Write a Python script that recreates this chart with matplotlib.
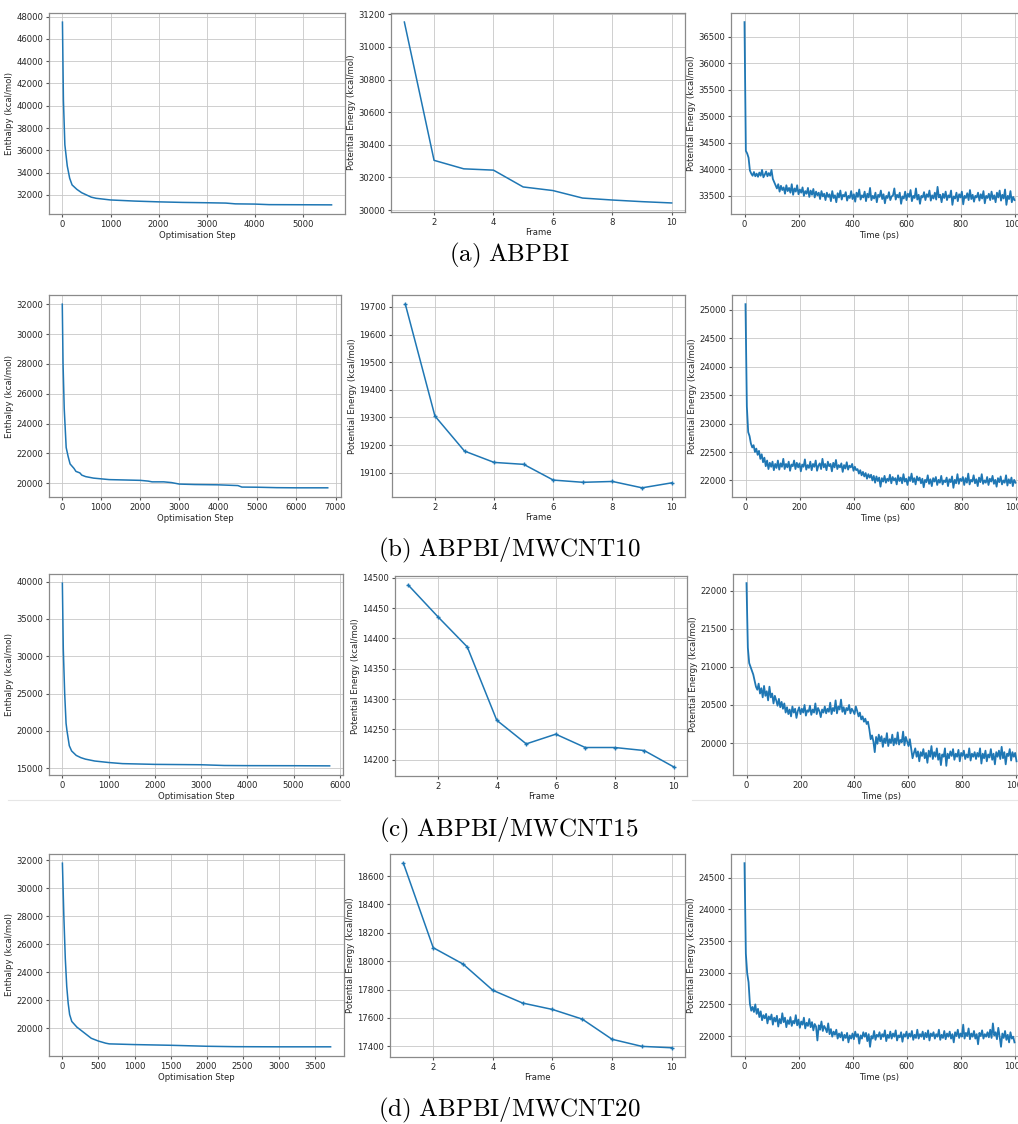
import numpy as np
import matplotlib
matplotlib.use("Agg")
import matplotlib.pyplot as plt
from matplotlib.ticker import MultipleLocator

plt.rcParams['mathtext.fontset'] = 'cm'
plt.rcParams['font.family'] = 'DejaVu Sans'
plt.rcParams['font.size'] = 6.1
plt.rcParams['axes.edgecolor'] = '#8a8a8a'
plt.rcParams['axes.linewidth'] = 0.9
plt.rcParams['xtick.color'] = '#555555'
plt.rcParams['ytick.color'] = '#555555'
plt.rcParams['xtick.labelcolor'] = '#262626'
plt.rcParams['ytick.labelcolor'] = '#262626'
plt.rcParams['xtick.major.size'] = 2.2
plt.rcParams['ytick.major.size'] = 2.2
plt.rcParams['xtick.major.pad'] = 2.0
plt.rcParams['ytick.major.pad'] = 2.0
plt.rcParams['axes.labelpad'] = 1.6
plt.rcParams['axes.labelcolor'] = '#262626'

W, H = 1018, 1124

captions = ["(a)\\ ABPBI", "(b)\\ ABPBI/MWCNT10",
            "(c)\\ ABPBI/MWCNT15", "(d)\\ ABPBI/MWCNT20"]

# geometry optimisation: enthalpy vs step
opt_a_step = [0, 20, 50, 100, 150, 200, 300, 400, 500, 600, 700, 1000, 1500, 2000,
              2500, 3000, 3400, 3600, 4000, 4300, 5000, 5600]
opt_a_h = [47500, 40500, 36500, 34600, 33500, 32900, 32500, 32200, 32000, 31800, 31700,
           31550, 31450, 31380, 31330, 31300, 31270, 31200, 31180, 31130, 31120, 31110]

opt_b_step = [0, 20, 50, 100, 150, 200, 300, 350, 450, 500, 600, 800, 1000, 1200, 2000,
              2200, 2300, 2600, 2800, 3000, 3400, 4000, 4500, 4600, 5000, 5500, 6000, 6800]
opt_b_h = [32000, 28000, 25000, 22400, 21800, 21300, 21000, 20800, 20700, 20550, 20450,
           20350, 20300, 20250, 20200, 20150, 20100, 20100, 20050, 19950, 19920, 19900,
           19850, 19750, 19740, 19710, 19700, 19700]

opt_c_step = [0, 20, 50, 80, 100, 150, 200, 300, 400, 500, 700, 1000, 1300, 2000, 3000,
              3500, 4000, 5000, 5780]
opt_c_h = [39800, 31000, 25000, 21000, 20000, 18000, 17300, 16700, 16400, 16200, 15950,
           15750, 15600, 15500, 15450, 15350, 15330, 15320, 15300]

opt_d_step = [0, 20, 40, 60, 80, 100, 130, 200, 300, 400, 450, 500, 600, 650, 1000, 1500,
              2000, 2400, 3000, 3720]
opt_d_h = [31800, 28000, 25000, 23000, 21800, 21000, 20500, 20100, 19700, 19300, 19200,
           19100, 18950, 18900, 18850, 18800, 18730, 18700, 18690, 18690]

# minimisation frames: potential energy
frames = list(range(1, 11))
frame_a = [31152, 30305, 30253, 30245, 30142, 30120, 30074, 30062, 30052, 30044]
frame_b = [19710, 19305, 19178, 19137, 19130, 19073, 19065, 19068, 19045, 19063]
frame_c = [14488, 14436, 14386, 14265, 14226, 14242, 14220, 14220, 14215, 14188]
frame_d = [18690, 18095, 17980, 17795, 17705, 17660, 17592, 17450, 17400, 17390]

# MD run: potential energy every 5 ps from 0 to 1000 ps
md_time = np.arange(0, 1001, 5)
md_a = [36780, 34350, 34300, 34220, 33980, 33920, 33880, 33950, 33870, 33920,
        33860, 33940, 33880, 33990, 33850, 33900, 33960, 33870, 33930, 33880,
        33990, 33820, 33760, 33700, 33640, 33720, 33580, 33690, 33610, 33660,
        33540, 33700, 33590, 33650, 33560, 33720, 33520, 33640, 33580, 33700,
        33530, 33620, 33560, 33660, 33500, 33590, 33540, 33650, 33480, 33600,
        33520, 33630, 33470, 33580, 33510, 33560, 33440, 33590, 33490, 33540,
        33420, 33560, 33480, 33530, 33400, 33590, 33460, 33510, 33380, 33550,
        33470, 33600, 33430, 33520, 33490, 33570, 33410, 33500, 33460, 33590,
        33440, 33530, 33390, 33560, 33480, 33620, 33430, 33510, 33470, 33580,
        33400, 33540, 33470, 33650, 33420, 33500, 33450, 33560, 33380, 33520,
        33480, 33600, 33440, 33530, 33360, 33500, 33460, 33570, 33420, 33490,
        33510, 33640, 33430, 33520, 33470, 33560, 33350, 33490, 33450, 33580,
        33420, 33540, 33480, 33610, 33400, 33500, 33460, 33640, 33430, 33520,
        33350, 33500, 33470, 33570, 33420, 33530, 33480, 33600, 33410, 33510,
        33450, 33560, 33430, 33670, 33470, 33520, 33380, 33540, 33460, 33580,
        33420, 33510, 33470, 33600, 33330, 33490, 33450, 33560, 33400, 33530,
        33470, 33580, 33340, 33500, 33460, 33550, 33420, 33610, 33440, 33520,
        33390, 33500, 33470, 33560, 33410, 33530, 33450, 33590, 33360, 33500,
        33460, 33540, 33420, 33580, 33440, 33510, 33380, 33560, 33470, 33600,
        33410, 33520, 33450, 33620, 33330, 33500, 33440, 33590, 33380, 33480,
        33420]
md_b = [25100, 23300, 22850, 22780, 22650, 22580, 22620, 22500, 22560, 22450,
        22520, 22380, 22460, 22320, 22400, 22250, 22350, 22200, 22310, 22240,
        22330, 22180, 22290, 22220, 22350, 22190, 22300, 22240, 22380, 22200,
        22290, 22230, 22330, 22170, 22280, 22250, 22350, 22200, 22310, 22230,
        22300, 22160, 22280, 22240, 22370, 22190, 22270, 22220, 22330, 22180,
        22290, 22240, 22350, 22170, 22260, 22300, 22200, 22380, 22230, 22290,
        22180, 22330, 22250, 22290, 22160, 22310, 22230, 22360, 22200, 22270,
        22230, 22300, 22150, 22270, 22210, 22320, 22190, 22260, 22230, 22290,
        22170, 22240, 22180, 22200, 22120, 22180, 22090, 22150, 22070, 22130,
        22030, 22110, 22050, 22100, 22000, 22080, 21960, 22070, 21990, 22050,
        21890, 22040, 21980, 22080, 21960, 22030, 21990, 22100, 21950, 22060,
        22000, 22040, 21930, 22090, 21990, 22050, 21950, 22110, 21980, 22030,
        21920, 22060, 21990, 22120, 21970, 22040, 21930, 22070, 22000, 22050,
        21950, 22030, 21880, 22010, 21970, 22090, 21940, 22020, 21900, 22040,
        21980, 22060, 21920, 22010, 21960, 22080, 21930, 22000, 21970, 22050,
        21900, 22020, 21970, 22070, 21870, 22010, 21950, 22110, 21940, 22030,
        21990, 22060, 21920, 22040, 21960, 22120, 21930, 22010, 21980, 22090,
        21950, 22020, 21900, 22050, 21970, 22110, 21940, 22000, 21960, 22060,
        21920, 22030, 21980, 22080, 21940, 22010, 21890, 22040, 21970, 22070,
        21930, 22000, 21960, 22090, 21910, 22020, 21950, 22050, 21900, 22010,
        21960]
md_c = [22100, 21250, 21050, 21000, 20950, 20900, 20820, 20740, 20700, 20780,
        20650, 20720, 20600, 20750, 20620, 20680, 20560, 20740, 20600, 20650,
        20520, 20620, 20560, 20490, 20580, 20470, 20540, 20450, 20520, 20400,
        20470, 20380, 20440, 20350, 20480, 20400, 20450, 20330, 20420, 20470,
        20380, 20450, 20400, 20500, 20360, 20430, 20410, 20490, 20370, 20440,
        20400, 20520, 20380, 20460, 20420, 20340, 20440, 20400, 20480, 20390,
        20450, 20410, 20530, 20380, 20460, 20420, 20560, 20390, 20480, 20440,
        20570, 20410, 20470, 20380, 20460, 20430, 20500, 20390, 20450, 20420,
        20380, 20480, 20420, 20350, 20400, 20310, 20350, 20280, 20320, 20250,
        20280, 20180, 20050, 20100, 20020, 19880, 20080, 19990, 20110, 20020,
        20090, 19950, 20060, 20000, 20130, 19960, 20050, 20000, 20110, 19970,
        20060, 19990, 20140, 19980, 20040, 20010, 20150, 19970, 20080, 20020,
        19960, 20050, 19920, 19800, 19870, 19930, 19820, 19890, 19760, 19880,
        19830, 19920, 19800, 19870, 19740, 19900, 19820, 19960, 19790, 19880,
        19820, 19930, 19780, 19860, 19710, 19850, 19820, 19930, 19700, 19860,
        19800, 19890, 19830, 19920, 19780, 19860, 19820, 19910, 19760, 19870,
        19830, 19900, 19790, 19850, 19810, 19930, 19770, 19860, 19820, 19880,
        19790, 19870, 19820, 19930, 19730, 19860, 19800, 19900, 19760, 19850,
        19810, 19920, 19780, 19860, 19720, 19880, 19820, 19900, 19790, 19950,
        19800, 19880, 19720, 19860, 19830, 19920, 19770, 19880, 19820, 19870,
        19760]
md_d = [24730, 23300, 22990, 22850, 22510, 22400, 22460, 22380, 22500, 22350,
        22430, 22300, 22390, 22250, 22330, 22280, 22350, 22200, 22310, 22260,
        22340, 22180, 22290, 22230, 22320, 22150, 22270, 22200, 22360, 22220,
        22290, 22140, 22250, 22190, 22300, 22160, 22240, 22200, 22330, 22170,
        22260, 22130, 22230, 22180, 22290, 22120, 22210, 22160, 22270, 22140,
        22220, 22090, 22190, 22150, 21930, 22170, 22100, 22230, 22080, 22160,
        22120, 22060, 22200, 22030, 22110, 21990, 22070, 22020, 22100, 21960,
        22040, 21980, 22060, 21930, 22020, 21970, 22050, 21900, 22010, 21960,
        22040, 21950, 22070, 21990, 22030, 21880, 22010, 21960, 22060, 21990,
        22050, 21920, 22030, 21830, 22000, 21960, 22080, 21940, 22020, 21990,
        22060, 21950, 22030, 21990, 22090, 21920, 22020, 21970, 22070, 21960,
        22040, 21990, 22090, 21930, 22010, 21980, 22060, 21910, 22030, 21990,
        22070, 21960, 22040, 21990, 22080, 21940, 22020, 21970, 22100, 21960,
        22030, 21990, 22070, 21950, 22050, 21980, 22090, 21930, 22040, 22000,
        22060, 21960, 22030, 21990, 22100, 21940, 22020, 21970, 22080, 21950,
        22040, 21990, 22070, 21960, 22030, 21900, 22060, 22000, 22100, 21970,
        22040, 21990, 22180, 21960, 22050, 22000, 22120, 21950, 22040, 21990,
        22080, 21960, 22030, 21870, 22050, 22000, 22090, 21960, 22030, 21990,
        22060, 21980, 22100, 21970, 22200, 22010, 22060, 21950, 22130, 21990,
        21830, 22040, 21970, 22080, 21940, 22020, 21900, 22060, 21960, 21990,
        21900]

opt_runs = [(opt_a_step, opt_a_h), (opt_b_step, opt_b_h),
            (opt_c_step, opt_c_h), (opt_d_step, opt_d_h)]
frame_runs = [frame_a, frame_b, frame_c, frame_d]
md_runs = [md_a, md_b, md_c, md_d]
enthalpy_step = [2000, 2000, 5000, 2000]

# pixel boxes (left, top, right, bottom) for each panel in each row
left_boxes = [(49, 13, 345, 214), (49, 295, 341, 497), (49, 574, 343, 775), (49, 854, 344, 1056)]
mid_boxes = [(391, 13, 685, 212), (392, 295, 685, 497), (395, 576, 687, 776), (390, 854, 685, 1057)]
right_boxes = [(731, 13, 1028, 214), (732, 295, 1029, 497), (733, 574, 1030, 775), (731, 854, 1028, 1056)]
caption_y = [255, 550, 830, 1110]

fig = plt.figure(figsize=(W / 100, H / 100), dpi=100)


def box_axes(box):
    x0, y0, x1, y1 = box
    ax = fig.add_axes([x0 / W, 1 - y1 / H, (x1 - x0) / W, (y1 - y0) / H])
    ax.grid(True, color='#c8c8c8', linewidth=0.6)
    ax.set_axisbelow(True)
    return ax


for i in range(4):
    ax = box_axes(left_boxes[i])
    ax.plot(opt_runs[i][0], opt_runs[i][1], color='#1f77b4', lw=1.1)
    ax.yaxis.set_major_locator(MultipleLocator(enthalpy_step[i]))
    ax.set_xlabel("Optimisation Step")
    ax.set_ylabel("Enthalpy (kcal/mol)")

    ax = box_axes(mid_boxes[i])
    if i == 0:
        ax.plot(frames, frame_runs[i], color='#1f77b4', lw=1.1)
    else:
        ax.plot(frames, frame_runs[i], color='#1f77b4', lw=1.1,
                marker='+', ms=3.5, mew=1.0)
    ax.set_xlabel("Frame", labelpad=1.0)
    ax.set_ylabel("Potential Energy (kcal/mol)")

    ax = box_axes(right_boxes[i])
    ax.plot(md_time, md_runs[i], color='#1f77b4', lw=1.3)
    ax.set_xlabel("Time (ps)")
    ax.set_ylabel("Potential Energy (kcal/mol)")

    fig.text(0.5, 1 - caption_y[i] / H, r'$\mathrm{' + captions[i] + '}$',
             fontsize=18, ha='center', va='center')

# faint frame edges under the third row
fig.add_artist(plt.Line2D([8 / W, 340 / W], [1 - 800 / H] * 2, color='#e6e6e6', lw=0.8))
fig.add_artist(plt.Line2D([692 / W, 1], [1 - 800 / H] * 2, color='#e6e6e6', lw=0.8))

fig.savefig("out.png", dpi=100)
